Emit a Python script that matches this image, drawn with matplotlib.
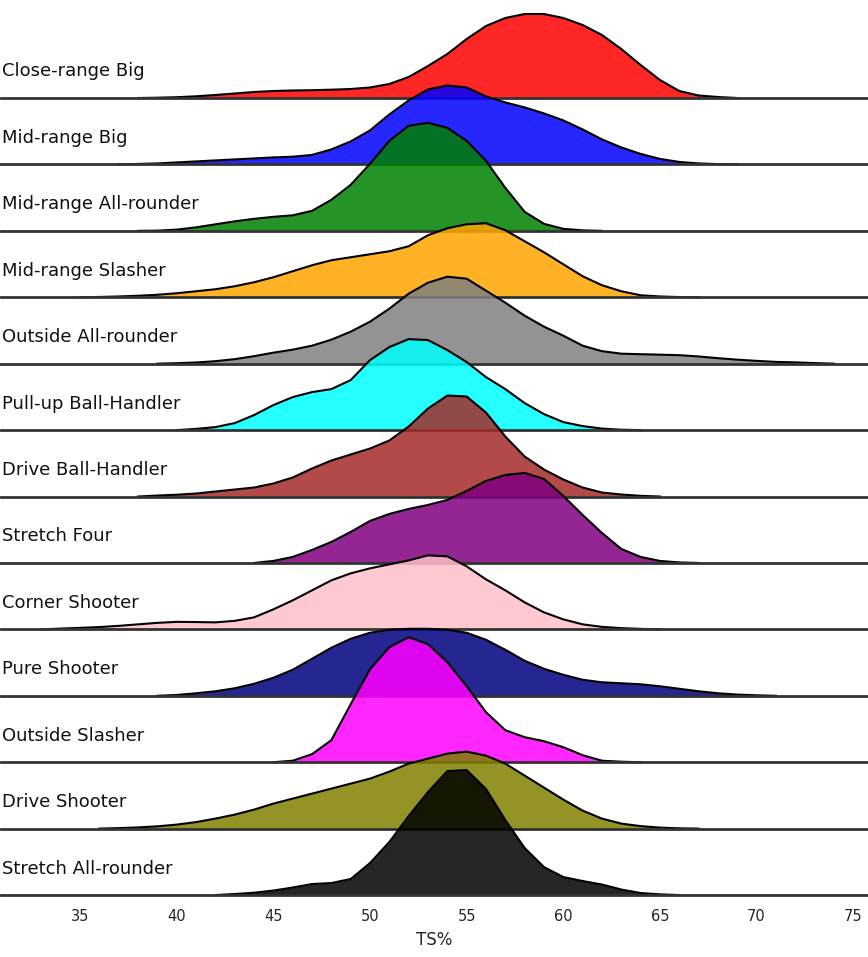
import numpy as np
import matplotlib.pyplot as plt

# TS% grid the curve heights were read at
ts = np.arange(32, 75)

roles = ["Close-range Big", "Mid-range Big", "Mid-range All-rounder", "Mid-range Slasher",
         "Outside All-rounder", "Pull-up Ball-Handler", "Drive Ball-Handler", "Stretch Four",
         "Corner Shooter", "Pure Shooter", "Outside Slasher", "Drive Shooter", "Stretch All-rounder"]

colors = ["red", "blue", "green", "orange", "gray", "cyan", "brown", "purple",
          "pink", "navy", "magenta", "olive", "black"]

# KDE heights per role (relative density units), TS 32..74
close_range_big = [0, 0, 0, 0, 0, 0, 0, 0.3, 0.8, 1.7, 3, 4.5, 6, 7, 7.5, 7.8, 8.3, 9, 10.5, 14, 21,
                   32, 44, 59, 72, 80, 84, 84, 80, 73, 63, 49, 33, 18, 7, 2.5, 1, 0, 0, 0, 0, 0, 0]
mid_range_big = [0, 0, 0, 0, 0, 0, 0.5, 1, 2, 3, 4, 5, 6, 7, 7.7, 9.5, 15, 23, 34, 50, 64,
                 75, 79, 77, 68, 62, 57, 51, 44, 35, 25, 17, 10.5, 5.5, 2.5, 1, 0.3, 0, 0, 0, 0, 0, 0]
mid_range_allr = [0, 0, 0, 0, 0, 0, 0, 0.2, 1.2, 3.5, 6.5, 9.5, 12, 14, 15.5, 20, 31, 46, 67, 90, 105,
                  108, 103, 90, 70, 43, 19, 7, 2, 0.5, 0, 0, 0, 0, 0, 0, 0, 0, 0, 0, 0, 0, 0]
mid_range_slasher = [0, 0, 0, 0, 0.3, 0.8, 1.5, 2.5, 4, 6, 8, 11, 15, 20, 26, 32, 37, 40, 43, 46, 51,
                     62, 69, 73, 74, 67, 56, 45, 33, 21, 12, 6, 2, 0.8, 0.2, 0, 0, 0, 0, 0, 0, 0, 0]
outside_allr = [0, 0, 0, 0, 0, 0, 0, 0, 0.5, 1.2, 2.5, 4.5, 7.5, 11, 14, 18, 24, 32, 42, 55, 70,
                81, 87, 85, 73, 61, 48, 37, 28, 18, 12.5, 10, 9.5, 9, 8.5, 7.2, 5.5, 4, 2.8, 1.8, 1.3, 0.6, 0]
pullup_bh = [0, 0, 0, 0, 0, 0, 0, 0, 0, 1.2, 3, 7, 15, 25, 33, 38, 41, 50, 70, 83, 91,
             90, 80, 68, 53, 41, 27, 16, 8, 4, 1.5, 0.4, 0, 0, 0, 0, 0, 0, 0, 0, 0, 0, 0]
drive_bh = [0, 0, 0, 0, 0, 0, 0, 1, 1.8, 3, 5, 7, 9, 13, 19, 28, 36, 42, 48, 56, 70,
            88, 101, 100, 84, 60, 40, 27, 17, 9, 4, 2, 0.7, 0, 0, 0, 0, 0, 0, 0, 0, 0, 0]
stretch_four = [0, 0, 0, 0, 0, 0, 0, 0, 0, 0, 0, 0, 0, 2, 6, 13, 21, 31, 42, 49, 54,
                58, 63, 72, 82, 88, 90, 84, 67, 48, 30, 14, 6, 2, 0.5, 0, 0, 0, 0, 0, 0, 0, 0]
corner_shooter = [0, 0, 0.8, 1.5, 2.3, 3.5, 5, 6.5, 7.5, 7.3, 7, 8.5, 12, 20, 29, 39, 49, 56, 61, 65, 69,
                  74, 73, 63, 50, 39, 27, 17, 10, 5, 2.5, 1.2, 0.5, 0, 0, 0, 0, 0, 0, 0, 0, 0, 0]
pure_shooter = [0, 0, 0, 0, 0, 0, 0, 0, 0.8, 2.5, 4.5, 7.5, 12, 18, 26, 37, 48, 57, 63, 66, 67,
                67, 66, 63, 56, 46, 35, 27, 21, 16, 13.5, 12.5, 11.5, 9.5, 7, 4.5, 2.5, 1.2, 0.5, 0, 0, 0, 0]
outside_slasher = [0, 0, 0, 0, 0, 0, 0, 0, 0, 0, 0, 0, 0, 0, 1.5, 8, 22, 58, 93, 115, 125,
                   118, 100, 76, 50, 32, 25, 21, 15, 7, 1.5, 0.5, 0, 0, 0, 0, 0, 0, 0, 0, 0, 0, 0]
drive_shooter = [0, 0, 0, 0, 0, 0.5, 1.2, 2.3, 4, 6.5, 10, 14, 19, 25, 30, 35, 40, 45, 50, 57, 65,
                 70, 75, 77, 73, 65, 53, 41, 29, 18, 10, 5, 2.5, 1, 0.3, 0, 0, 0, 0, 0, 0, 0, 0]
stretch_allr = [0, 0, 0, 0, 0, 0, 0, 0, 0, 0, 0, 1, 2.3, 4.5, 7.5, 11, 12, 16, 32, 53, 79,
                103, 124, 125, 106, 75, 47, 28, 18, 14, 10.5, 5.5, 2, 0.7, 0, 0, 0, 0, 0, 0, 0, 0, 0]

densities = [close_range_big, mid_range_big, mid_range_allr, mid_range_slasher, outside_allr,
             pullup_bh, drive_bh, stretch_four, corner_shooter, pure_shooter, outside_slasher,
             drive_shooter, stretch_allr]

W, H = 868, 957
fig = plt.figure(figsize=(W / 100, H / 100), dpi=100)

first_base, step, row_h = 98, 66.42, 135  # pixels
for i, (role, color, dens) in enumerate(zip(roles, colors, densities)):
    base = first_base + i * step
    ax = fig.add_axes([1 / W, (H - base) / H, 866 / W, row_h / H])
    ax.patch.set_alpha(0)
    dens = np.array(dens)
    # outline only over the curve's own support
    nz = np.nonzero(dens)[0]
    lo, hi = max(nz[0] - 1, 0), min(nz[-1] + 1, len(ts) - 1)
    ax.fill_between(ts, dens, color=color, alpha=0.85, lw=0)
    ax.plot(ts[lo:hi + 1], dens[lo:hi + 1], color="black", lw=1.5, clip_on=False,
            solid_joinstyle="round")
    ax.axhline(0, color="#333333", lw=2, clip_on=False)
    ax.set_xlim(30.91, 75.71)
    ax.set_ylim(0, row_h)
    ax.text(0.0015, 21.5, role, transform=ax.get_yaxis_transform(),
            fontsize=13, color="#111111", ha="left", va="baseline")
    for s in ax.spines.values():
        s.set_visible(False)
    ax.set_yticks([])
    if i == len(roles) - 1:
        ax.set_xticks([35, 40, 45, 50, 55, 60, 65, 70, 75])
        ax.tick_params(axis="x", length=0, pad=10, labelsize=10.5, labelcolor="#262626")
        ax.set_xlabel("TS%", fontsize=12, color="#262626", labelpad=5)
    else:
        ax.set_xticks([])

fig.savefig("out.png", dpi=100)
